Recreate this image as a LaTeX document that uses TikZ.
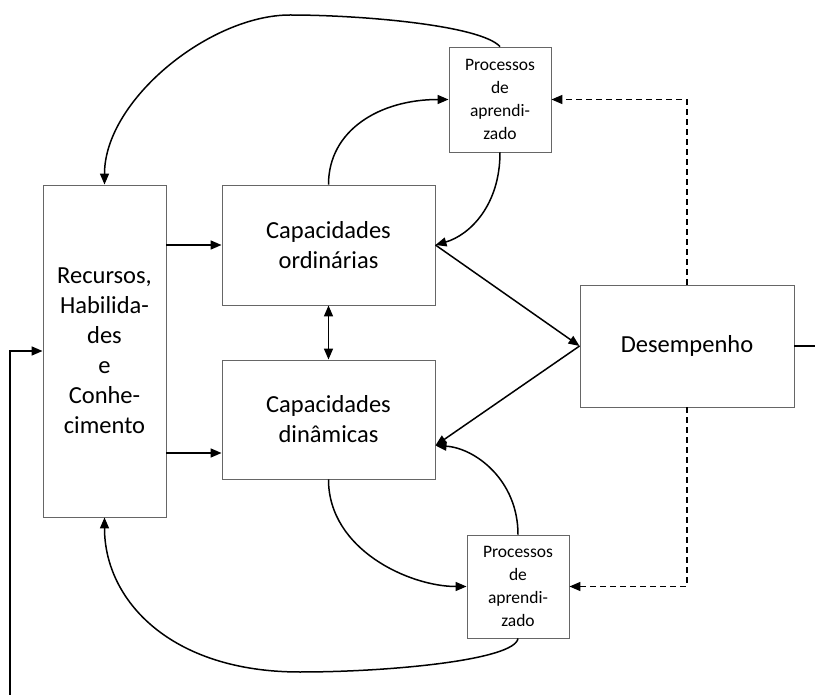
\documentclass[tikz,border=0pt]{standalone}
\usepackage{fontspec}
\setmainfont{Carlito}
\usetikzlibrary{arrows.meta}
\begin{document}
\begin{tikzpicture}[x=1pt,y=-1pt,
  box/.style={draw=black!60, line width=0.9pt, fill=white, inner sep=0pt, align=center},
  big/.style={box, font=\fontsize{24.5}{30}\selectfont},
  small/.style={box, font=\fontsize{17.5}{23}\selectfont},
  arr/.style={line width=1.5pt, -{Triangle[length=11pt,width=9pt]}},
  darr/.style={line width=1.5pt, {Triangle[length=11pt,width=9pt]}-{Triangle[length=11pt,width=9pt]}},
  dsh/.style={arr, dash pattern=on 6pt off 4pt},
  ln/.style={line width=1.5pt}]
\useasboundingbox (0,0) rectangle (815,695);
\node[big, minimum width=123pt, minimum height=332pt] (rec) at (104.5,351) {Recursos,\\Habilida-\\des\\e\\Conhe-\\cimento};
\node[big, minimum width=213pt, minimum height=120pt] (co) at (328.5,245) {Capacidades\\ordinárias};
\node[big, minimum width=213pt, minimum height=119pt] (cd) at (328.5,419.5) {Capacidades\\dinâmicas};
\node[big, minimum width=214pt, minimum height=122pt] (des) at (687,346) {Desempenho};
\node[small, minimum width=102pt, minimum height=105pt] (pt) at (500,99.5) {Processos\\de\\aprendi-\\zado};
\node[small, minimum width=102pt, minimum height=103pt] (pb) at (518,586.5) {Processos\\de\\aprendi-\\zado};
\path ([yshift=-33.5pt]cd.west) coordinate (cdin);
\path ([yshift=-26pt]cd.east) coordinate (cdr);
\coordinate (rout) at (815,346);
\coordinate (lin) at (10,695);
% straight arrows
\draw[arr] (rec.east |- co.west) -- (co.west);
\draw[arr] (rec.east |- cdin) -- (cdin);
\draw[darr] (co.south) -- (cd.north);
\draw[arr] (co.east) -- (des.west);
\draw[arr] (des.west) -- (cdr);
% dashed
\draw[dsh] (des.north) |- (pt.east);
\draw[dsh] (des.south) |- (pb.east);
% curves
\draw[arr] (pt.north) .. controls (480,25) and (360,15) .. (290,15) .. controls (210,15) and (104.5,100) .. (rec.north);
\draw[arr] (co.north) .. controls (328.5,130) and (380,99.5) .. (pt.west);
\draw[arr] (pt.south) .. controls (500,205) and (470,235) .. (co.east);
\draw[arr] (cd.south) .. controls (328.5,550) and (410,586.5) .. (pb.west);
\draw[arr] (pb.north) .. controls (518,480) and (475,448) .. (cdr);
\draw[arr] (pb.south) .. controls (515,660) and (390,672) .. (300,672) .. controls (170,672) and (104.5,600) .. (rec.south);
% in/out lines
\draw[ln] (des.east) -- (rout);
\draw[arr] (lin) |- (rec.west);
\end{tikzpicture}
\end{document}
